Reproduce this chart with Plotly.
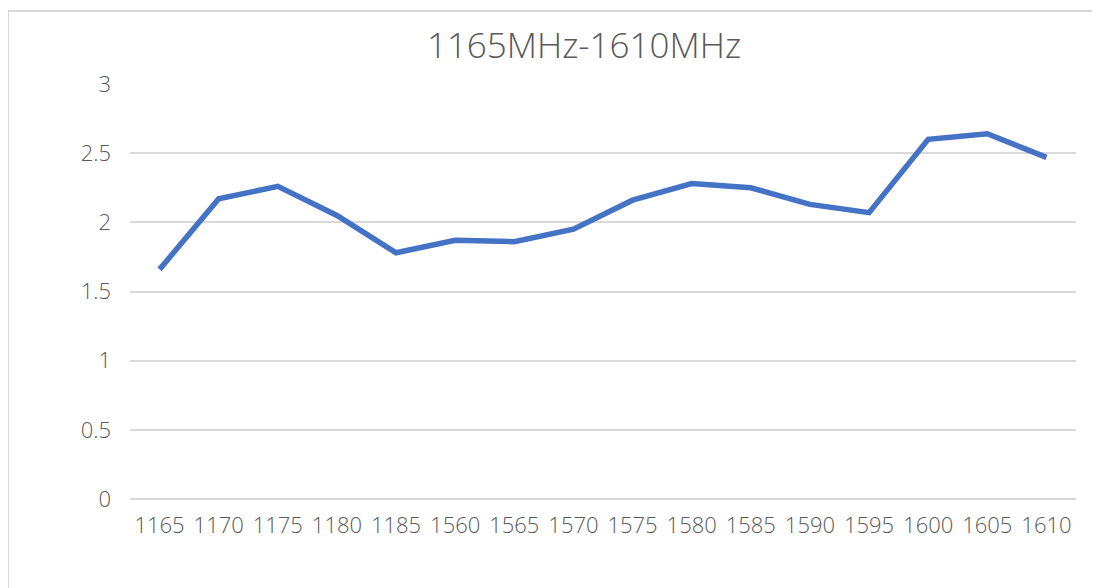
import plotly.graph_objects as go

categories = ["1165", "1170", "1175", "1180", "1185", "1560", "1565", "1570",
              "1575", "1580", "1585", "1590", "1595", "1600", "1605", "1610"]
values = [1.66, 2.17, 2.26, 2.05, 1.78, 1.87, 1.86, 1.95,
          2.16, 2.28, 2.25, 2.13, 2.07, 2.60, 2.64, 2.47]
y_ticks = [0, 0.5, 1, 1.5, 2, 2.5, 3]
y_ticklabels = ["0", "0.5", "1", "1.5", "2", "2.5", "3"]
title_text = "1165MHz-1610MHz"

# page body has an 8px default margin; work in figure coordinates
OFF = 8
W, H = 1100 - OFF, 588 - OFF
ML = 130 - OFF
MT = 84 - OFF
MR = W - (1076 - OFF)
MB = H - (499 - OFF)
PW, PH = W - ML - MR, H - MT - MB

def px_x(p):
    return (p - OFF - ML) / PW

def px_y(p):
    return (H - MB - (p - OFF)) / PH

font_family = "Open Sans, Noto Sans, sans-serif"
text_color = "#595959"

fig = go.Figure()
fig.add_trace(go.Scatter(
    x=categories, y=values, mode="lines",
    line=dict(color="#4472C4", width=5.5),
    hoverinfo="x+y", showlegend=False,
))

fig.update_layout(
    width=W, height=H,
    margin=dict(l=ML, r=MR, t=MT, b=MB),
    paper_bgcolor="white", plot_bgcolor="white",
    title=dict(text=title_text, x=(584 - OFF) / W, xref="container", xanchor="center",
               y=1 - (46 - OFF) / H, yref="container", yanchor="middle",
               font=dict(family=font_family, size=35, color=text_color, weight=300)),
    xaxis=dict(type="category", range=[-0.5, len(categories) - 0.5],
               showgrid=False, showline=False, zeroline=False, ticks="",
               tickfont=dict(family=font_family, size=22, color=text_color, weight=300),
               ticklabelstandoff=11),
    yaxis=dict(range=[0, 3], tickvals=y_ticks, ticktext=y_ticklabels,
               showgrid=True, gridcolor="#d9d9d9", gridwidth=1.5,
               zeroline=True, zerolinecolor="#d9d9d9", zerolinewidth=1.5,
               showline=False, ticks="",
               tickfont=dict(family=font_family, size=22, color=text_color, weight=300),
               ticklabelstandoff=18),
    shapes=[
        dict(type="line", xref="paper", yref="paper",
             x0=px_x(8), x1=px_x(1100), y0=px_y(11), y1=px_y(11),
             line=dict(color="#d9d9d9", width=2)),
        dict(type="line", xref="paper", yref="paper",
             x0=px_x(8), x1=px_x(8), y0=px_y(11), y1=px_y(588),
             line=dict(color="#d9d9d9", width=2)),
    ],
)

fig.write_html("out.html")
